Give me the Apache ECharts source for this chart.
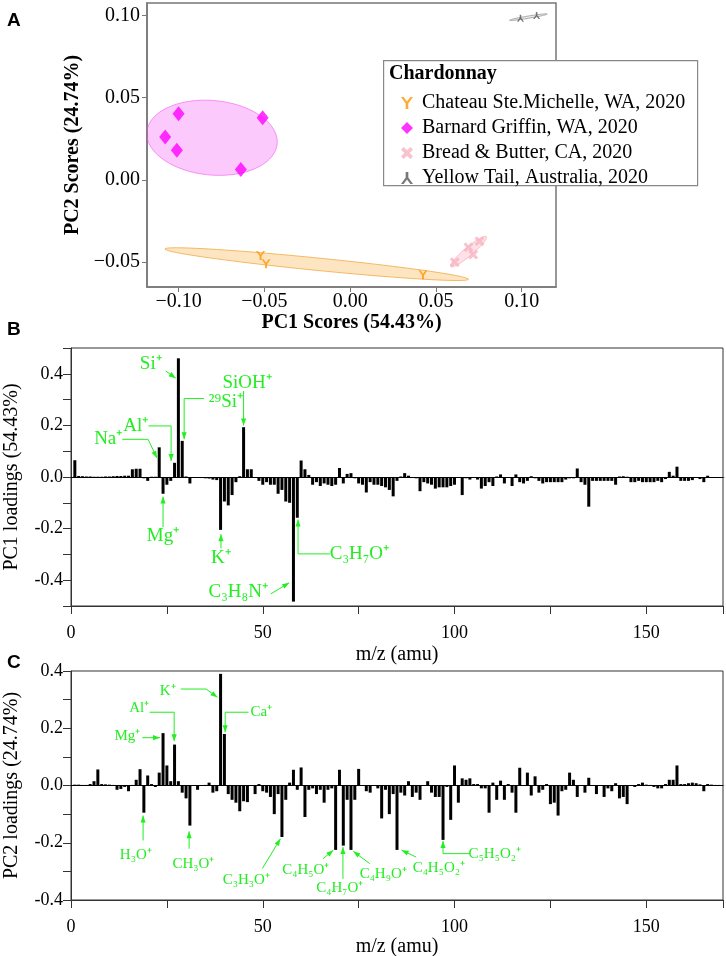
<!DOCTYPE html>
<html>
<head>
<meta charset="utf-8">
<script src="https://cdn.jsdelivr.net/npm/echarts@6/dist/echarts.min.js"></script>
<style>
html, body { margin: 0; padding: 0; background: #fff; }
#container { width: 726px; height: 956px; }
</style>
</head>
<body>
<div id="container"></div>
<script>
// ---- panel A: PCA scores ----
var chateauPC1 = [-0.0522, -0.0490, 0.0425];
var chateauPC2 = [-0.0460, -0.0510, -0.0577];
var barnardPC1 = [-0.1000, -0.0510, -0.1078, -0.1010, -0.0637];
var barnardPC2 = [0.0402, 0.0378, 0.0260, 0.0180, 0.0063];
var breadPC1 = [0.0610, 0.0690, 0.0717, 0.0754];
var breadPC2 = [-0.0500, -0.0410, -0.0454, -0.0373];
var yellowPC1 = [0.0993, 0.1087];
var yellowPC2 = [0.0983, 0.0999];

// confidence ellipses: centre + two conjugate half axes, in PC units
var ellipseCentre = [[-0.0195, -0.0512], [-0.0805, 0.0256], [0.0690, -0.0436], [0.1039, 0.0989]];
var ellipseAxisU = [[0.0885, -0.0092], [0.0380, -0.0016], [0.0103, 0.0091], [0.0110, 0.0019]];
var ellipseAxisV = [[0, 0.0038], [-0.0015, 0.0228], [0.0019, -0.0017], [0, 0.0007]];

var scoreTicksX = [-0.1, -0.05, 0, 0.05, 0.1];
var scoreTicksY = [-0.05, 0, 0.05, 0.1];

// ---- panels B and C: loadings, m/z 1..170 ----
var mz = [];
for (var i = 1; i <= 170; i++) mz.push(i);

var pc1Loadings = [
  0.065, 0.004, 0.003, 0.002, 0.002, 0.001, 0.001, 0.001, 0.002, 0.002,
  0.003, 0.004, 0.004, 0.005, 0.005, 0.030, 0.032, 0.032, -0.005, -0.015,
  0.001, 0.001, 0.115, -0.065, -0.030, -0.015, 0.055, 0.460, 0.140, 0.002,
  -0.025, -0.003, -0.003, -0.004, -0.005, -0.006, -0.010, -0.012, -0.205, -0.095,
  -0.110, -0.070, -0.020, 0.003, 0.193, 0.030, 0.030, -0.003, -0.015, -0.030,
  -0.020, -0.030, -0.030, -0.065, -0.050, -0.095, -0.100, -0.483, -0.158, 0.064,
  0.030, 0.008, -0.030, -0.020, -0.035, -0.025, -0.030, -0.035, -0.030, 0.035,
  -0.025, 0.012, 0.015, -0.005, -0.025, -0.030, -0.060, -0.020, -0.030, -0.030,
  -0.035, -0.040, -0.050, -0.075, -0.015, 0.002, 0.015, 0.005, -0.003, -0.005,
  -0.055, -0.020, -0.025, -0.030, -0.045, -0.040, -0.040, -0.040, -0.035, -0.030,
  -0.003, -0.070, -0.005, -0.010, -0.003, -0.010, -0.045, -0.035, -0.020, -0.035,
  0.002, 0.010, -0.025, 0.000, -0.035, 0.010, -0.020, -0.025, -0.015, 0.003,
  -0.005, -0.015, -0.025, -0.020, -0.020, -0.020, -0.020, -0.020, -0.010, -0.005,
  -0.005, 0.033, -0.020, -0.030, -0.115, -0.015, -0.015, -0.015, -0.015, -0.015,
  -0.015, -0.030, 0.002, 0.003, 0.001, -0.020, -0.020, -0.015, -0.020, -0.020,
  -0.020, -0.020, -0.015, -0.020, -0.008, 0.020, 0.005, 0.040, -0.015, -0.015,
  -0.015, -0.012, -0.003, -0.008, -0.020, 0.005, -0.003, -0.003, -0.002, -0.002
];

var pc2Loadings = [
  0.003, 0.003, 0.002, 0.002, 0.005, 0.015, 0.056, 0.005, 0.004, 0.003,
  0.002, -0.015, -0.012, -0.005, -0.020, 0.002, 0.020, 0.057, -0.095, 0.035,
  0.005, -0.005, 0.045, 0.183, 0.070, 0.015, 0.143, 0.015, -0.025, -0.045,
  -0.140, 0.000, -0.015, 0.000, 0.002, 0.010, -0.025, -0.020, 0.390, 0.180,
  -0.030, -0.050, -0.060, -0.090, -0.055, -0.058, 0.000, -0.030, 0.005, -0.020,
  -0.025, -0.040, -0.100, -0.030, -0.180, -0.050, 0.010, 0.055, -0.015, 0.063,
  -0.110, -0.015, -0.010, -0.030, -0.015, -0.060, -0.015, -0.010, -0.225, 0.055,
  -0.210, -0.050, -0.225, -0.050, 0.058, 0.000, -0.020, -0.025, 0.000, -0.010,
  -0.115, -0.015, -0.100, -0.030, -0.225, -0.025, -0.035, 0.015, -0.040, -0.025,
  -0.050, 0.000, 0.015, -0.025, -0.040, -0.040, -0.190, -0.005, -0.120, 0.070,
  -0.060, 0.025, 0.020, 0.025, 0.005, 0.005, -0.010, -0.010, -0.095, 0.010,
  -0.050, 0.017, -0.050, 0.005, -0.025, -0.095, 0.062, 0.000, 0.045, -0.035,
  0.032, -0.025, -0.015, 0.005, -0.065, -0.060, -0.105, -0.020, -0.015, 0.045,
  0.020, -0.040, 0.000, -0.025, 0.027, 0.000, -0.030, 0.000, -0.040, -0.010,
  -0.020, 0.008, -0.045, -0.040, -0.065, 0.000, -0.005, 0.005, 0.010, 0.003,
  0.002, -0.005, -0.010, -0.010, 0.005, 0.020, 0.020, 0.070, 0.005, 0.005,
  0.008, 0.010, 0.008, 0.004, -0.020, 0.005, 0.003, 0.002, 0.002, 0.001
];

// peak labels: text, text centre (m/z, loading), arrow path ending at the tip
var peaksB = [
  { label: 'Si⁺', tx: 20.8, ty: 0.437, path: [[24.7, 0.411], [27.3, 0.383]] },
  { label: '²⁹Si⁺', tx: 40.4, ty: 0.289, path: [[34.7, 0.304], [29.5, 0.304], [29.5, 0.146]] },
  { label: 'SiOH⁺', tx: 45.9, ty: 0.366, path: [[45.0, 0.333], [45.0, 0.200]] },
  { label: 'Al⁺', tx: 16.9, ty: 0.198, path: [[20.2, 0.198], [26.1, 0.198], [26.1, 0.062]] },
  { label: 'Na⁺', tx: 9.7, ty: 0.146, path: [[13.4, 0.146], [20.1, 0.146], [22.4, 0.074]] },
  { label: 'Mg⁺', tx: 24.0, ty: -0.229, path: [[24.0, -0.194], [24.0, -0.076]] },
  { label: 'K⁺', tx: 39.1, ty: -0.315, path: [[39.1, -0.277], [39.1, -0.222]] },
  { label: 'C₃H₈N⁺', tx: 43.6, ty: -0.446, path: [[52.1, -0.453], [56.9, -0.410]] },
  { label: 'C₃H₇O⁺', tx: 75.2, ty: -0.298, path: [[67.5, -0.298], [59.2, -0.298], [59.2, -0.165]] }
];

var peaksC = [
  { label: 'K⁺', tx: 25.2, ty: 0.330, path: [[28.6, 0.337], [35.2, 0.337], [38.2, 0.308]] },
  { label: 'Ca⁺', tx: 49.6, ty: 0.256, path: [[46.3, 0.256], [40.2, 0.256], [40.2, 0.186]] },
  { label: 'Al⁺', tx: 17.8, ty: 0.272, path: [[20.5, 0.256], [26.9, 0.256], [26.9, 0.155]] },
  { label: 'Mg⁺', tx: 14.7, ty: 0.171, path: [[18.6, 0.167], [23.2, 0.167]] },
  { label: 'H₃O⁺', tx: 16.9, ty: -0.244, path: [[18.8, -0.192], [18.8, -0.105]] },
  { label: 'CH₃O⁺', tx: 31.9, ty: -0.273, path: [[30.8, -0.221], [30.8, -0.160]] },
  { label: 'C₃H₃O⁺', tx: 45.7, ty: -0.331, path: [[49.9, -0.290], [54.6, -0.186]] },
  { label: 'C₄H₅O⁺', tx: 61.2, ty: -0.294, path: [[65.7, -0.256], [68.4, -0.226]] },
  { label: 'C₄H₇O⁺', tx: 70.1, ty: -0.357, path: [[70.9, -0.326], [70.9, -0.215]] },
  { label: 'C₄H₉O⁺', tx: 81.4, ty: -0.308, path: [[77.9, -0.273], [73.6, -0.230]] },
  { label: 'C₄H₅O₂⁺', tx: 95.9, ty: -0.288, path: [[90.0, -0.250], [86.2, -0.226]] },
  { label: 'C₅H₅O₂⁺', tx: 110.5, ty: -0.238, path: [[103.9, -0.238], [97.0, -0.238], [97.0, -0.194]] }
];

var SERIF = '"Liberation Serif", "Times New Roman", serif';
var GREEN = '#22ee22';
var ellipseFill = ['rgba(250,170,50,0.30)', 'rgba(245,40,245,0.25)', 'rgba(255,160,180,0.30)', 'rgba(140,140,140,0.18)'];
var ellipseStroke = ['rgba(240,165,60,0.75)', 'rgba(240,90,240,0.6)', 'rgba(250,170,185,0.8)', 'rgba(150,150,150,0.8)'];

var dom = document.getElementById('container');
var myChart = echarts.init(dom, null, { renderer: 'canvas' });

function pairs(xs, ys) {
  return xs.map(function (x, i) { return [x, ys[i]]; });
}

function scoreLabel(v) {
  return (v < 0 ? '\u2212' : '') + Math.abs(v).toFixed(2);
}

function loadingLabel(v) {
  var r = Math.round(v * 10);
  return r % 2 === 0 ? (r / 10).toFixed(1) : '';
}

function mzLabel(v) {
  return v % 50 === 0 ? String(v) : '';
}

function renderEllipse(params, api) {
  var k = api.value(2);
  var c = ellipseCentre[k], u = ellipseAxisU[k], v = ellipseAxisV[k];
  var pts = [];
  for (var j = 0; j < 96; j++) {
    var t = j / 96 * Math.PI * 2;
    pts.push(api.coord([
      c[0] + Math.cos(t) * u[0] + Math.sin(t) * v[0],
      c[1] + Math.cos(t) * u[1] + Math.sin(t) * v[1]
    ]));
  }
  var cs = params.coordSys;
  return {
    type: 'polygon',
    shape: { points: pts },
    style: { fill: ellipseFill[k], stroke: ellipseStroke[k], lineWidth: 1 },
    clipPath: { type: 'rect', shape: { x: cs.x, y: cs.y, width: cs.width, height: cs.height } }
  };
}

function peakRenderer(list, fontSize) {
  return function (params, api) {
    var a = list[api.value(2)];
    var pts = a.path.map(function (p) { return api.coord(p); });
    var kids = [];
    kids.push({ type: 'polyline', shape: { points: pts }, style: { stroke: GREEN, lineWidth: 1, fill: 'none' } });
    var p1 = pts[pts.length - 2], p2 = pts[pts.length - 1];
    var ang = Math.atan2(p2[1] - p1[1], p2[0] - p1[0]);
    var L = 7, W = 2.6;
    var bx = p2[0] - L * Math.cos(ang), by = p2[1] - L * Math.sin(ang);
    kids.push({
      type: 'polygon',
      shape: { points: [p2, [bx + W * Math.sin(ang), by - W * Math.cos(ang)], [bx - W * Math.sin(ang), by + W * Math.cos(ang)]] },
      style: { fill: GREEN }
    });
    var t = api.coord([a.tx, a.ty]);
    kids.push({
      type: 'text', x: t[0], y: t[1],
      style: { text: a.label, fill: GREEN, font: fontSize + 'px ' + SERIF, align: 'center', verticalAlign: 'middle' }
    });
    return { type: 'group', children: kids };
  };
}

function loadingYAxis(grid, lo, hi, name, gap) {
  return {
    gridIndex: grid, type: 'value', min: lo, max: hi, interval: 0.1,
    name: name, nameLocation: 'middle', nameGap: gap,
    nameTextStyle: { fontFamily: SERIF, fontSize: 20, color: '#000' },
    axisLine: { show: true, lineStyle: { color: '#333' } },
    axisTick: { show: true, length: 8, lineStyle: { color: '#333' } },
    axisLabel: { formatter: loadingLabel, margin: 8, fontFamily: SERIF, fontSize: 18, color: '#000' },
    splitLine: { show: false }
  };
}

function mzXAxis(grid, gap) {
  return {
    gridIndex: grid, type: 'value', min: 0, max: 170, interval: 25,
    name: 'm/z (amu)', nameLocation: 'middle', nameGap: gap,
    nameTextStyle: { fontFamily: SERIF, fontSize: 20, color: '#000' },
    axisLine: { show: true, onZero: false, lineStyle: { color: '#333' } },
    axisTick: { show: true, length: 8, lineStyle: { color: '#333' } },
    axisLabel: { formatter: mzLabel, margin: 18, fontFamily: SERIF, fontSize: 18, color: '#000' },
    splitLine: { show: false }
  };
}

function loadingBars(name, grid, values) {
  return {
    name: name, type: 'bar', xAxisIndex: grid, yAxisIndex: grid,
    data: mz.map(function (m, i) { return [m, values[i]]; }),
    barWidth: 3, itemStyle: { color: '#000' }, silent: true, z: 3,
    markLine: {
      silent: true, symbol: 'none', label: { show: false },
      lineStyle: { color: '#000', width: 1, type: 'solid' },
      data: [{ yAxis: 0 }]
    }
  };
}

var option = {
  animation: false,
  backgroundColor: '#fff',
  textStyle: { fontFamily: SERIF },
  graphic: [
    { type: 'text', left: 7, top: 11, style: { text: 'A', font: 'bold 19px "Liberation Sans", Arial, sans-serif', fill: '#000' } },
    { type: 'text', left: 7, top: 320, style: { text: 'B', font: 'bold 19px "Liberation Sans", Arial, sans-serif', fill: '#000' } },
    { type: 'text', left: 7, top: 653, style: { text: 'C', font: 'bold 19px "Liberation Sans", Arial, sans-serif', fill: '#000' } },
    { type: 'rect', left: 383, top: 60, z: 10, shape: { width: 314, height: 125 }, style: { fill: '#fff', stroke: '#888', lineWidth: 1.2 } },
    { type: 'text', left: 389, top: 64, z: 11, style: { text: 'Chardonnay', font: 'bold 20px ' + SERIF, fill: '#000' } }
  ],
  legend: {
    left: 396, top: 88, orient: 'vertical', z: 20,
    itemGap: 5, itemWidth: 12, itemHeight: 12,
    textStyle: { fontFamily: SERIF, fontSize: 20, color: '#000', lineHeight: 20, padding: [0, 0, 0, 4] },
    data: ['Chateau Ste.Michelle, WA, 2020', 'Barnard Griffin, WA, 2020', 'Bread & Butter, CA, 2020', 'Yellow Tail, Australia, 2020']
  },
  grid: [
    { left: 147, top: 3, width: 409, height: 284, show: true, borderColor: '#777', borderWidth: 1.5, backgroundColor: 'transparent', outerBoundsMode: 'none' },
    { left: 71, top: 348, width: 652, height: 258, show: true, borderColor: '#333', borderWidth: 1, backgroundColor: 'transparent', outerBoundsMode: 'none' },
    { left: 71, top: 671, width: 652, height: 229, show: true, borderColor: '#333', borderWidth: 1, backgroundColor: 'transparent', outerBoundsMode: 'none' }
  ],
  xAxis: [
    {
      gridIndex: 0, type: 'value', min: -0.1184, max: 0.12,
      name: 'PC1 Scores (54.43%)', nameLocation: 'middle', nameGap: 25,
      nameTextStyle: { fontFamily: SERIF, fontSize: 20, fontWeight: 'bold', color: '#000' },
      axisLine: { show: true, onZero: false, lineStyle: { color: '#777', width: 1.5 } },
      axisTick: { show: true, length: 5, lineStyle: { color: '#777' }, customValues: scoreTicksX },
      axisLabel: { formatter: scoreLabel, margin: 5, fontFamily: SERIF, fontSize: 20, color: '#000', customValues: scoreTicksX },
      splitLine: { show: false }
    },
    mzXAxis(1, 39),
    mzXAxis(2, 37)
  ],
  yAxis: [
    {
      gridIndex: 0, type: 'value', min: -0.0651, max: 0.1075,
      name: 'PC2 Scores (24.74%)', nameLocation: 'middle', nameGap: 53,
      nameTextStyle: { fontFamily: SERIF, fontSize: 20, fontWeight: 'bold', color: '#000' },
      axisLine: { show: true, onZero: false, lineStyle: { color: '#777', width: 1.5 } },
      axisTick: { show: true, length: 5, lineStyle: { color: '#777' }, customValues: scoreTicksY },
      axisLabel: { formatter: scoreLabel, margin: 7, fontFamily: SERIF, fontSize: 20, color: '#000', customValues: scoreTicksY },
      splitLine: { show: false }
    },
    loadingYAxis(1, -0.5, 0.5, 'PC1 loadings (54.43%)', 49),
    loadingYAxis(2, -0.4, 0.4, 'PC2 loadings (24.74%)', 49)
  ],
  series: [
    {
      type: 'custom', xAxisIndex: 0, yAxisIndex: 0, silent: true, z: 1,
      renderItem: renderEllipse,
      encode: { x: 0, y: 1 },
      data: ellipseCentre.map(function (c, k) { return [c[0], c[1], k]; })
    },
    {
      name: 'Chateau Ste.Michelle, WA, 2020', type: 'scatter', xAxisIndex: 0, yAxisIndex: 0, z: 3,
      symbol: 'path://M0,0 L2.2,0 L5,3.8 L7.8,0 L10,0 L6.1,5.4 L6.1,10 L3.9,10 L3.9,5.4 Z',
      symbolSize: 9, itemStyle: { color: '#FF9500' },
      data: pairs(chateauPC1, chateauPC2)
    },
    {
      name: 'Barnard Griffin, WA, 2020', type: 'scatter', xAxisIndex: 0, yAxisIndex: 0, z: 3,
      symbol: 'diamond', symbolSize: [12, 15], itemStyle: { color: '#FF00FF' },
      data: pairs(barnardPC1, barnardPC2)
    },
    {
      name: 'Bread & Butter, CA, 2020', type: 'scatter', xAxisIndex: 0, yAxisIndex: 0, z: 3,
      symbol: 'path://M0,2.2 L2.2,0 L5,2.8 L7.8,0 L10,2.2 L7.2,5 L10,7.8 L7.8,10 L5,7.2 L2.2,10 L0,7.8 L2.8,5 Z',
      symbolSize: 10, itemStyle: { color: '#F7B3C2' },
      data: pairs(breadPC1, breadPC2)
    },
    {
      name: 'Yellow Tail, Australia, 2020', type: 'scatter', xAxisIndex: 0, yAxisIndex: 0, z: 3,
      symbol: 'path://M3.9,0 L6.1,0 L6.1,4.6 L10,10 L7.8,10 L5,6.2 L2.2,10 L0,10 L3.9,4.6 Z',
      symbolSize: 7, itemStyle: { color: '#555' },
      data: pairs(yellowPC1, yellowPC2)
    },
    loadingBars('PC1 loadings', 1, pc1Loadings),
    loadingBars('PC2 loadings', 2, pc2Loadings),
    {
      type: 'custom', xAxisIndex: 1, yAxisIndex: 1, silent: true, z: 5,
      renderItem: peakRenderer(peaksB, 19),
      encode: { x: 0, y: 1 },
      data: peaksB.map(function (a, k) { return [a.tx, a.ty, k]; })
    },
    {
      type: 'custom', xAxisIndex: 2, yAxisIndex: 2, silent: true, z: 5,
      renderItem: peakRenderer(peaksC, 15),
      encode: { x: 0, y: 1 },
      data: peaksC.map(function (a, k) { return [a.tx, a.ty, k]; })
    }
  ]
};

if (option && typeof option === 'object') {
  myChart.setOption(option, true);
}
</script>
</body>
</html>
